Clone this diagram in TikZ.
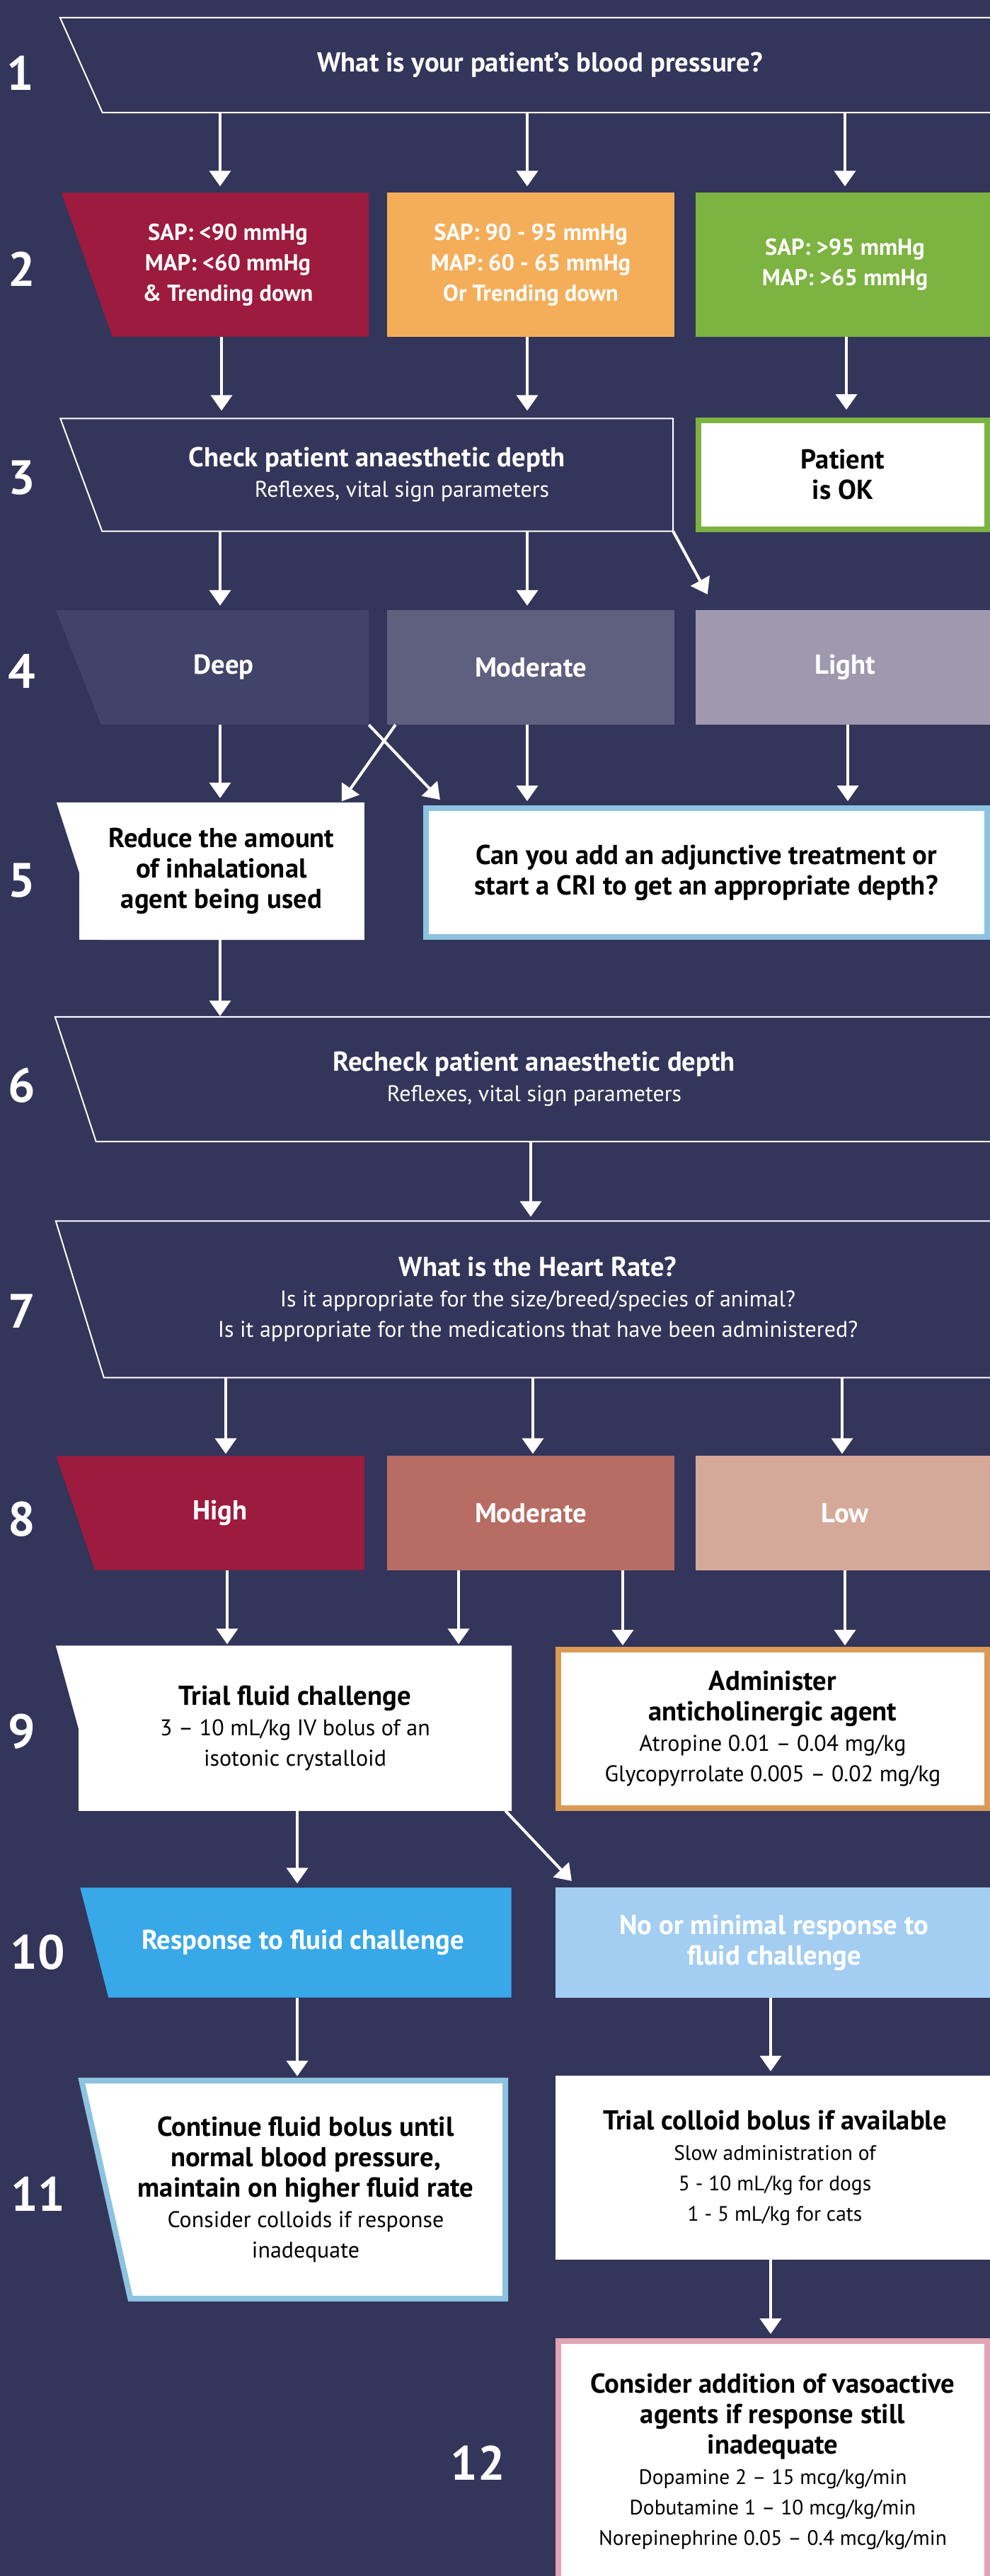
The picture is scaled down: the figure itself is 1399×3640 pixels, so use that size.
\documentclass[tikz,border=0pt]{standalone}
\usepackage{fontspec}
\setmainfont{PT Sans}
\usetikzlibrary{arrows.meta,backgrounds}

\definecolor{navy}{HTML}{33355A}
\definecolor{bpred}{HTML}{9C1B3E}
\definecolor{bporange}{HTML}{F4AE5A}
\definecolor{bpgreen}{HTML}{7DB341}
\definecolor{deepdepth}{HTML}{414368}
\definecolor{moddepth}{HTML}{5F5F7F}
\definecolor{lightdepth}{HTML}{9E99AE}
\definecolor{hrhigh}{HTML}{9C1B3E}
\definecolor{hrmod}{HTML}{B76C64}
\definecolor{hrlow}{HTML}{D5A999}
\definecolor{resp}{HTML}{39A8E8}
\definecolor{noresp}{HTML}{A3CEF1}
\definecolor{edgeblue}{HTML}{8DC3E0}
\definecolor{edgeorange}{HTML}{DB9A55}
\definecolor{edgepink}{HTML}{E2A3B3}

\tikzset{
  box/.style={rectangle, inner sep=0pt, align=center, text=white},
  card/.style={box, text=black, fill=white},
  framed/.style={card, draw=#1, line width=8pt},
  bold/.style={font=\bfseries\fontsize{38.7}{43}\selectfont},
  bptext/.style={font=\bfseries\fontsize{32.5}{43}\selectfont},
  stepno/.style={text=white, inner sep=0pt, font=\bfseries\fontsize{68}{68}\selectfont},
  arr/.style={draw=white, line width=4pt, -{Triangle[length=22pt,width=30pt]}, shorten >=6pt},
  outline/.style={draw=white, line width=2pt},
}
\newcommand{\subline}[1]{{\mdseries\fontsize{32}{43}\selectfont #1}}
\newcommand{\smallsub}[1]{{\mdseries\fontsize{29.5}{43}\selectfont #1}}
\newcommand{\slantpath}[2]{([xshift=-#2]#1.north west) -- (#1.north east) -- (#1.south east) -- ([xshift=#2]#1.south west) -- cycle}

\begin{document}
\begin{tikzpicture}[x=1pt,y=-1pt]
    \useasboundingbox (0,0) rectangle (1399,3640);
    \begin{scope}[on background layer]
        \fill[navy] (0,0) rectangle (1399,3640);
    \end{scope}

    % step numbers
    \node[stepno] (n1) at (29,103) {1};
    \node[stepno] (n2) at (31,380) {2};
    \node[stepno] (n3) at (31,675) {3};
    \node[stepno] (n4) at (31,949) {4};
    \node[stepno] (n5) at (31,1244) {5};
    \node[stepno] (n6) at (31,1534) {6};
    \node[stepno] (n7) at (31,1853) {7};
    \node[stepno] (n8) at (31,2147) {8};
    \node[stepno] (n9) at (31,2447) {9};
    \node[stepno] (n10) at (53,2759) {10};
    \node[stepno] (n11) at (54,3100) {11};
    \node[stepno] (n12) at (675,3480) {12};

    % 1: blood pressure
    \node[box, bold, minimum width=1296pt, minimum height=134pt] (q1) at (763,92) {What is your patient’s blood pressure?};

    % 2: pressure ranges
    \node[box, bptext, minimum width=398pt, minimum height=203pt] (r2a) at (322,374) {SAP: <90 mmHg\\MAP: <60 mmHg\\\& Trending down};
    \node[box, bptext, minimum width=406pt, minimum height=203pt] (r2b) at (750,374) {SAP: 90 - 95 mmHg\\MAP: 60 - 65 mmHg\\Or Trending down};
    \node[box, bptext, minimum width=422pt, minimum height=203pt] (r2c) at (1194,374) {SAP: >95 mmHg\\MAP: >65 mmHg};

    % 3: depth check
    \node[box, bold, minimum width=836pt, minimum height=159pt] (q3) at (533,671) {Check patient anaesthetic depth\\\hspace*{70pt}\subline{Reflexes, vital sign parameters}};
    \node[framed=bpgreen, bold, minimum width=408pt, minimum height=154pt] (ok3) at (1191,671) {Patient\\is OK};

    % 4: depth
    \node[box, bold, minimum width=410pt, minimum height=162pt] (d4a) at (316,943) {Deep};
    \node[box, bold, minimum width=406pt, minimum height=162pt] (d4b) at (750,943) {Moderate};
    \node[box, bold, minimum width=422pt, minimum height=162pt] (d4c) at (1194,943) {Light};

    % 5: actions on depth
    \node[card, bold, minimum width=403pt, minimum height=194pt] (red5) at (313,1231) {Reduce the amount\\of inhalational\\agent being used};
    \node[framed=edgeblue, bold, minimum width=793pt, minimum height=182pt] (cri5) at (998,1233) {Can you add an adjunctive treatment or\\start a CRI to get an appropriate depth?};

    % 6: recheck
    \node[box, bold, minimum width=1296pt, minimum height=176pt] (q6) at (755,1525) {Recheck patient anaesthetic depth\\\subline{Reflexes, vital sign parameters}};

    % 7: heart rate
    \node[box, bold, minimum width=1294pt, minimum height=221pt] (q7) at (760,1836) {What is the Heart Rate?\\\subline{Is it appropriate for the size/breed/species of animal?}\\\subline{Is it appropriate for the medications that have been administered?}};

    % 8: heart rate levels
    \node[box, bold, minimum width=408pt, minimum height=161pt] (h8a) at (311,2138) {High};
    \node[box, bold, minimum width=406pt, minimum height=161pt] (h8b) at (750,2138) {Moderate};
    \node[box, bold, minimum width=422pt, minimum height=161pt] (h8c) at (1194,2138) {Low};

    % 9: treatments
    \node[card, bold, minimum width=612pt, minimum height=233pt] (tr9) at (417,2442) {Trial fluid challenge\\\subline{3 – 10 mL/kg IV bolus of an}\\\subline{isotonic crystalloid}};
    \node[framed=edgeorange, bold, minimum width=606pt, minimum height=224pt] (ad9) at (1092,2443) {Administer\\anticholinergic agent\\\subline{Atropine 0.01 – 0.04 mg/kg}\\\subline{Glycopyrrolate 0.005 – 0.02 mg/kg}};

    % 10: fluid response
    \node[box, bold, minimum width=589pt, minimum height=155pt] (re10) at (428,2745) {Response to fluid challenge};
    \node[box, bold, minimum width=618pt, minimum height=155pt] (no10) at (1094,2745) {No or minimal response to\\fluid challenge};

    % 11
    \node[card, fill=none, bold, minimum width=564pt, minimum height=308pt] (co11) at (432,3094) {Continue fluid bolus until\\normal blood pressure,\\maintain on higher fluid rate\\\subline{Consider colloids if response}\\\subline{inadequate}};
    \node[card, bold, minimum width=620pt, minimum height=260pt] (tc11) at (1095,3063) {Trial colloid bolus if available\\\smallsub{Slow administration of}\\\smallsub{5 - 10 mL/kg for dogs}\\\smallsub{1 - 5 mL/kg for cats}};

    % 12
    \node[framed=edgepink, bold, minimum width=606pt, minimum height=340pt] (ca12) at (1092,3478) {Consider addition of vasoactive\\agents if response still\\inadequate\\\smallsub{Dopamine 2 – 15 mcg/kg/min}\\\smallsub{Dobutamine 1 – 10 mcg/kg/min}\\\smallsub{Norepinephrine 0.05 – 0.4 mcg/kg/min}};

    % box shapes
    \begin{scope}[on background layer]
        \draw[outline] (q1.north east) -- ([xshift=-30pt]q1.north west) -- ([xshift=30pt]q1.south west) -- (q1.south east);
        \fill[bpred] \slantpath{r2a}{36pt};
        \fill[bporange] (r2b.north west) rectangle (r2b.south east);
        \fill[bpgreen] (r2c.north west) rectangle (r2c.south east);
        \draw[outline] \slantpath{q3}{29.5pt};
        \fill[deepdepth] \slantpath{d4a}{32pt};
        \fill[moddepth] (d4b.north west) rectangle (d4b.south east);
        \fill[lightdepth] (d4c.north west) rectangle (d4c.south east);
        \fill[white] \slantpath{red5}{31.5pt};
        \draw[outline] (q6.north east) -- ([xshift=-29pt]q6.north west) -- ([xshift=29pt]q6.south west) -- (q6.south east);
        \draw[outline] (q7.north east) -- ([xshift=-34pt]q7.north west) -- ([xshift=34pt]q7.south west) -- (q7.south east);
        \fill[hrhigh] \slantpath{h8a}{27.5pt};
        \fill[hrmod] (h8b.north west) rectangle (h8b.south east);
        \fill[hrlow] (h8c.north west) rectangle (h8c.south east);
        \fill[white] \slantpath{tr9}{32pt};
        \fill[resp] \slantpath{re10}{20pt};
        \fill[noresp] (no10.north west) rectangle (no10.south east);
        \draw[edgeblue, line width=8pt, fill=white] \slantpath{co11}{34.5pt};
    \end{scope}

    % connectors
    \draw[arr, shorten >=9pt] ([xshift=-11pt]r2a.north |- q1.south) -- ([xshift=-11pt]r2a.north);
    \draw[arr, shorten >=9pt] ([xshift=-5pt]r2b.north |- q1.south) -- ([xshift=-5pt]r2b.north);
    \draw[arr, shorten >=9pt] (r2c.north |- q1.south) -- (r2c.north);
    \draw[arr, shorten >=11pt] ([xshift=-9pt]r2a.south) -- ([xshift=-9pt]r2a.south |- q3.north);
    \draw[arr, shorten >=11pt] ([xshift=-5pt]r2b.south) -- ([xshift=-5pt]r2b.south |- q3.north);
    \draw[arr, shorten >=11pt] ([xshift=2pt]r2c.south) -- ([xshift=2pt]r2c.south |- ok3.north);
    \draw[arr] ([xshift=-5pt]d4a.north |- q3.south) -- ([xshift=-5pt]d4a.north);
    \draw[arr] ([xshift=-5pt]d4b.north |- q3.south) -- ([xshift=-5pt]d4b.north);
    \draw[arr, shorten >=25pt] (q3.south east) -- ([xshift=29pt]d4c.north west);
    \draw[arr] ([xshift=-2pt]red5.north |- d4a.south) -- ([xshift=-2pt]red5.north);
    \draw[arr, shorten >=11pt] (d4a.south east) -- ([xshift=32pt]cri5.north west);
    \draw[arr, shorten >=2pt] ([xshift=12pt]d4b.south west) -- ([xshift=-33pt]red5.north east);
    \draw[arr] ([xshift=-5pt]d4b.south) -- ([xshift=-5pt]d4b.south |- cri5.north);
    \draw[arr] ([xshift=4pt]d4c.south) -- ([xshift=4pt]d4c.south |- cri5.north);
    \draw[arr, shorten >=1pt] ([xshift=-2pt]red5.south) -- ([xshift=-2pt]red5.south |- q6.north);
    \draw[arr] ([xshift=-5pt]q6.south) -- ([xshift=-5pt]q6.south |- q7.north);
    \draw[arr, shorten >=3pt] ([xshift=8pt]h8a.north |- q7.south) -- ([xshift=8pt]h8a.north);
    \draw[arr, shorten >=3pt] ([xshift=3pt]h8b.north |- q7.south) -- ([xshift=3pt]h8b.north);
    \draw[arr, shorten >=3pt] ([xshift=-4pt]h8c.north |- q7.south) -- ([xshift=-4pt]h8c.north);
    \draw[arr, shorten >=2pt] ([xshift=10pt]h8a.south) -- ([xshift=10pt]h8a.south |- tr9.north);
    \draw[arr, shorten >=2pt] ([xshift=-102pt]h8b.south) -- ([xshift=-102pt]h8b.south |- tr9.north);
    \draw[arr, shorten >=2pt] ([xshift=130pt]h8b.south) -- ([xshift=130pt]h8b.south |- ad9.north);
    \draw[arr, shorten >=2pt] (h8c.south) -- (h8c.south |- ad9.north);
    \draw[arr] ([xshift=3pt]tr9.south) -- ([xshift=3pt]tr9.south |- re10.north);
    \draw[arr, shorten >=13pt] ([xshift=-9pt]tr9.south east) -- ([xshift=32pt]no10.north west);
    \draw[arr] ([xshift=-8pt]re10.south) -- ([xshift=-8pt]re10.south |- co11.north);
    \draw[arr] ([xshift=-5pt]no10.south) -- ([xshift=-5pt]no10.south |- tc11.north);
    \draw[arr] ([xshift=-6pt]tc11.south) -- ([xshift=-6pt]tc11.south |- ca12.north);
\end{tikzpicture}
\end{document}
